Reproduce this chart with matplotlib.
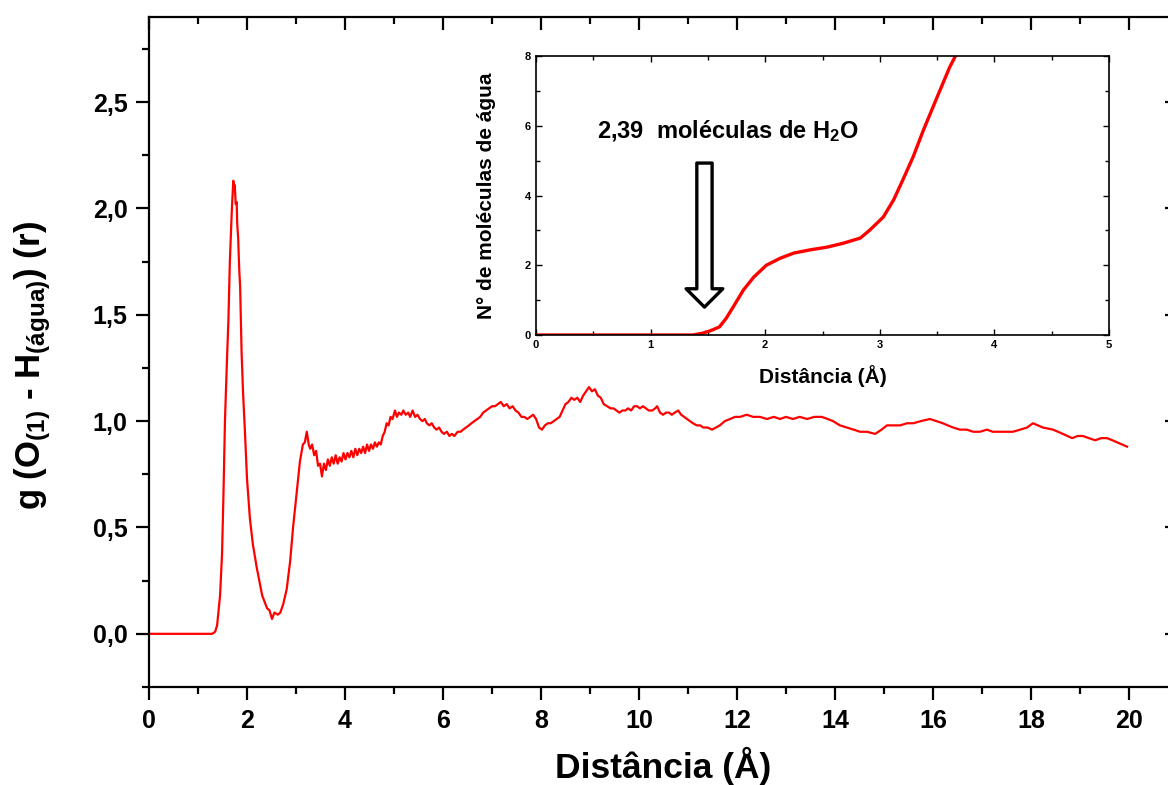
import matplotlib
matplotlib.use("Agg")
import matplotlib.pyplot as plt
from matplotlib.ticker import MultipleLocator, FixedLocator

plt.rcParams['font.family'] = ['Liberation Sans', 'DejaVu Sans']
plt.rcParams['font.weight'] = 'bold'
plt.rcParams['mathtext.fontset'] = 'custom'
plt.rcParams['mathtext.rm'] = 'Liberation Sans:bold'
plt.rcParams['mathtext.bf'] = 'Liberation Sans:bold'
plt.rcParams['mathtext.it'] = 'Liberation Sans:bold'
plt.rcParams['mathtext.default'] = 'bf'

# ---- main g(r) curve ----
r_main = [0.0, 1.29, 1.35, 1.39, 1.45, 1.49, 1.52, 1.55, 1.59, 1.62, 1.65, 1.69, 1.71, 1.72, 1.74, 1.75,
          1.77, 1.79, 1.80, 1.82, 1.84, 1.86, 1.89, 1.92, 1.96, 2.00, 2.06, 2.12, 2.20, 2.31, 2.41, 2.46,
          2.51, 2.56, 2.63, 2.68, 2.74, 2.81, 2.88, 2.94, 3.02, 3.08, 3.14, 3.18, 3.22, 3.26,
          3.29, 3.33, 3.37, 3.41, 3.45, 3.49, 3.53, 3.57, 3.61, 3.65, 3.69, 3.73, 3.77, 3.81, 3.85, 3.89,
          3.93, 3.97, 4.01, 4.05, 4.09, 4.13, 4.17, 4.21, 4.25, 4.29, 4.33, 4.37, 4.41, 4.45, 4.49, 4.53,
          4.57, 4.61, 4.65, 4.69, 4.73, 4.77, 4.81, 4.85, 4.89, 4.93, 4.97, 5.02, 5.06, 5.10, 5.15, 5.19,
          5.24, 5.29, 5.33, 5.38, 5.43, 5.48, 5.53, 5.58, 5.63, 5.67, 5.72, 5.77, 5.82, 5.87, 5.92, 5.97,
          6.02, 6.08, 6.13, 6.18, 6.23, 6.30, 6.36, 6.41, 6.47, 6.53, 6.58, 6.64, 6.70, 6.76, 6.82, 6.88,
          6.94, 7.00, 7.06, 7.12, 7.18, 7.24, 7.30, 7.36, 7.42, 7.48, 7.54, 7.60, 7.66, 7.72, 7.78, 7.84,
          7.90, 7.96, 8.02, 8.08, 8.14, 8.20, 8.26, 8.32, 8.38, 8.44, 8.50, 8.56, 8.62, 8.68, 8.74, 8.80,
          8.86, 8.92, 8.98, 9.04, 9.10, 9.16, 9.22, 9.28, 9.35, 9.42, 9.48, 9.54, 9.60, 9.66, 9.72, 9.78,
          9.84, 9.90, 9.96, 10.02, 10.08, 10.14, 10.20, 10.27, 10.33, 10.37, 10.43, 10.49, 10.55, 10.61,
          10.67, 10.73, 10.80, 10.86, 10.92, 10.98, 11.04, 11.10, 11.18, 11.25, 11.31, 11.40, 11.49, 11.57,
          11.65, 11.75, 11.86, 11.96, 12.06, 12.20, 12.33, 12.47, 12.61, 12.75, 12.88, 13.00, 13.14, 13.28,
          13.43, 13.58, 13.73, 13.85, 13.96, 14.10, 14.24, 14.38, 14.51, 14.65, 14.82, 14.95, 15.06, 15.20,
          15.33, 15.47, 15.60, 15.75, 15.94, 16.07, 16.20, 16.30, 16.41, 16.55, 16.69, 16.82, 16.96, 17.10,
          17.22, 17.37, 17.51, 17.63, 17.78, 17.92, 18.04, 18.14, 18.24, 18.45, 18.65, 18.84, 18.95, 19.06,
          19.18, 19.31, 19.43, 19.55, 19.66, 19.76, 19.86, 19.96]
g_main = [0.0, 0.0, 0.01, 0.04, 0.18, 0.37, 0.66, 1.00, 1.28, 1.47, 1.75, 1.99, 2.08, 2.13, 2.09, 2.11,
          2.02, 2.03, 1.93, 1.86, 1.72, 1.63, 1.32, 1.13, 0.94, 0.73, 0.54, 0.42, 0.31, 0.18, 0.12, 0.11,
          0.07, 0.10, 0.09, 0.10, 0.14, 0.21, 0.34, 0.50, 0.68, 0.81, 0.89, 0.90, 0.95, 0.89,
          0.87, 0.89, 0.84, 0.86, 0.79, 0.80, 0.74, 0.80, 0.77, 0.82, 0.79, 0.83, 0.80, 0.84, 0.80, 0.83,
          0.81, 0.85, 0.82, 0.85, 0.83, 0.86, 0.83, 0.87, 0.84, 0.87, 0.85, 0.88, 0.85, 0.89, 0.86, 0.89,
          0.87, 0.90, 0.88, 0.90, 0.89, 0.93, 0.95, 0.99, 0.98, 1.02, 1.01, 1.05, 1.02, 1.04, 1.03, 1.05,
          1.03, 1.04, 1.02, 1.05, 1.02, 1.03, 1.01, 1.00, 1.01, 0.99, 0.98, 0.99, 0.97, 0.96, 0.97, 0.95,
          0.94, 0.95, 0.93, 0.94, 0.93, 0.95, 0.95, 0.96, 0.97, 0.98, 0.99, 1.00, 1.01, 1.02, 1.04, 1.05,
          1.06, 1.07, 1.07, 1.08, 1.09, 1.07, 1.08, 1.06, 1.07, 1.05, 1.04, 1.02, 1.02, 1.01, 1.02, 1.03,
          1.01, 0.97, 0.96, 0.98, 0.99, 0.99, 1.00, 1.01, 1.02, 1.05, 1.08, 1.09, 1.11, 1.10, 1.11, 1.09,
          1.12, 1.14, 1.16, 1.14, 1.15, 1.12, 1.11, 1.08, 1.07, 1.06, 1.06, 1.05, 1.04, 1.05, 1.05, 1.06,
          1.05, 1.07, 1.07, 1.06, 1.07, 1.06, 1.05, 1.05, 1.06, 1.07, 1.04, 1.03, 1.04, 1.04,
          1.03, 1.04, 1.05, 1.03, 1.02, 1.01, 1.00, 0.99, 0.98, 0.98, 0.97, 0.97, 0.96, 0.97,
          0.98, 1.00, 1.01, 1.02, 1.02, 1.03, 1.02, 1.02, 1.01, 1.02, 1.01, 1.02, 1.01, 1.02,
          1.01, 1.02, 1.02, 1.01, 1.00, 0.98, 0.97, 0.96, 0.95, 0.95, 0.94, 0.96, 0.98, 0.98,
          0.98, 0.99, 0.99, 1.00, 1.01, 1.00, 0.99, 0.98, 0.97, 0.96, 0.96, 0.95, 0.95, 0.96,
          0.95, 0.95, 0.95, 0.95, 0.96, 0.97, 0.99, 0.98, 0.97, 0.96, 0.94, 0.92, 0.93, 0.93,
          0.92, 0.91, 0.92, 0.92, 0.91, 0.90, 0.89, 0.88]

# ---- inset: running coordination number ----
r_inset = [0.0, 1.37, 1.45, 1.52, 1.60, 1.66, 1.72, 1.81, 1.90, 2.01, 2.13, 2.25, 2.39, 2.54, 2.68,
           2.83, 2.91, 3.03, 3.12, 3.20, 3.29, 3.38, 3.50, 3.61, 3.66]
n_inset = [0.0, 0.0, 0.05, 0.12, 0.23, 0.48, 0.80, 1.29, 1.66, 2.00, 2.20, 2.35, 2.44, 2.52, 2.63,
           2.78, 3.00, 3.38, 3.87, 4.44, 5.10, 5.87, 6.82, 7.68, 8.00]

xticks_main = [0, 2, 4, 6, 8, 10, 12, 14, 16, 18, 20]
yticks_main = [0.0, 0.5, 1.0, 1.5, 2.0, 2.5]
ytick_labels_main = ['0,0', '0,5', '1,0', '1,5', '2,0', '2,5']
xticks_inset = [0, 1, 2, 3, 4, 5]
yticks_inset = [0, 2, 4, 6, 8]

RED = '#ff0000'

fig = plt.figure(figsize=(11.68, 7.85), dpi=100)
ax = fig.add_axes([149/1168, 1 - 687/785, (21*49)/1168, (687-17)/785])
ax.plot(r_main, g_main, color=RED, lw=1.6)
ax.set_xlim(0, 21)
ax.set_ylim(-0.25, 2.9)
for s in ax.spines.values():
    s.set_linewidth(1.6)
ax.spines['top'].set_visible(False)
ax.spines['right'].set_visible(False)
ax.xaxis.set_major_locator(FixedLocator(xticks_main))
ax.xaxis.set_minor_locator(MultipleLocator(1))
ax.yaxis.set_major_locator(FixedLocator(yticks_main))
ax.yaxis.set_minor_locator(MultipleLocator(0.25))
ax.set_yticklabels(ytick_labels_main)
ax.tick_params(which='major', direction='out', length=9.5, width=1.6, labelsize=18, pad=6)
ax.tick_params(which='minor', direction='out', length=5, width=1.6)
for lab in ax.get_xticklabels() + ax.get_yticklabels():
    lab.set_fontweight('bold')

# top and right: inward ticks
sec_x = ax.secondary_xaxis('top')
sec_x.xaxis.set_major_locator(FixedLocator(xticks_main))
sec_x.xaxis.set_minor_locator(MultipleLocator(1))
sec_x.tick_params(which='major', direction='in', length=9.5, width=1.6, labeltop=False)
sec_x.tick_params(which='minor', direction='in', length=5, width=1.6)
sec_x.spines['top'].set_linewidth(1.6)
sec_y = ax.secondary_yaxis('right')
sec_y.yaxis.set_major_locator(FixedLocator(yticks_main))
sec_y.yaxis.set_minor_locator(MultipleLocator(0.25))
sec_y.tick_params(which='major', direction='in', length=9.5, width=1.6, labelright=False)
sec_y.tick_params(which='minor', direction='in', length=5, width=1.6)
sec_y.spines['right'].set_linewidth(1.6)

ax.set_xlabel('Distância (Å)', fontsize=25.5, fontweight='bold', labelpad=10)
ax.set_ylabel(r'g (O$_{(1)}$ - H$_{(água)}$) (r)', fontsize=25, fontweight='bold', labelpad=26)
ax.yaxis.set_label_coords(-0.093, 0.48)

# ---- inset ----
ins = fig.add_axes([536/1168, 1 - 335/785, (1109-536)/1168, (335-56)/785])
ins.plot(r_inset, n_inset, color=RED, lw=2.4, clip_on=True)
ins.set_xlim(0, 5)
ins.set_ylim(0, 8)
ins.xaxis.set_major_locator(FixedLocator(xticks_inset))
ins.xaxis.set_minor_locator(MultipleLocator(0.5))
ins.yaxis.set_major_locator(FixedLocator(yticks_inset))
ins.yaxis.set_minor_locator(MultipleLocator(1))
ins.tick_params(which='both', direction='in', top=True, right=True, width=1.0, labelsize=8)
ins.tick_params(which='major', length=4)
ins.tick_params(which='minor', length=3)
for s in ins.spines.values():
    s.set_linewidth(1.2)
for lab in ins.get_xticklabels() + ins.get_yticklabels():
    lab.set_fontweight('bold')
ins.set_xlabel('Distância (Å)', fontsize=15, fontweight='bold', labelpad=11)
ins.set_ylabel('N° de moléculas de água', fontsize=15, fontweight='bold', labelpad=21)

ins.text(0.106, 0.73, r'2,39  moléculas de H$_2$O', transform=ins.transAxes, fontsize=17,
         fontweight='bold', va='center', ha='left')
ins.annotate('', xy=(1.47, 0.8), xytext=(1.47, 4.93), xycoords='data',
             arrowprops=dict(arrowstyle='simple,head_length=1.2,head_width=2.4,tail_width=1.0',
                             mutation_scale=11, fc='white', ec='black', lw=2.4,
                             shrinkA=0, shrinkB=0))

fig.savefig('out.png', dpi=100)
